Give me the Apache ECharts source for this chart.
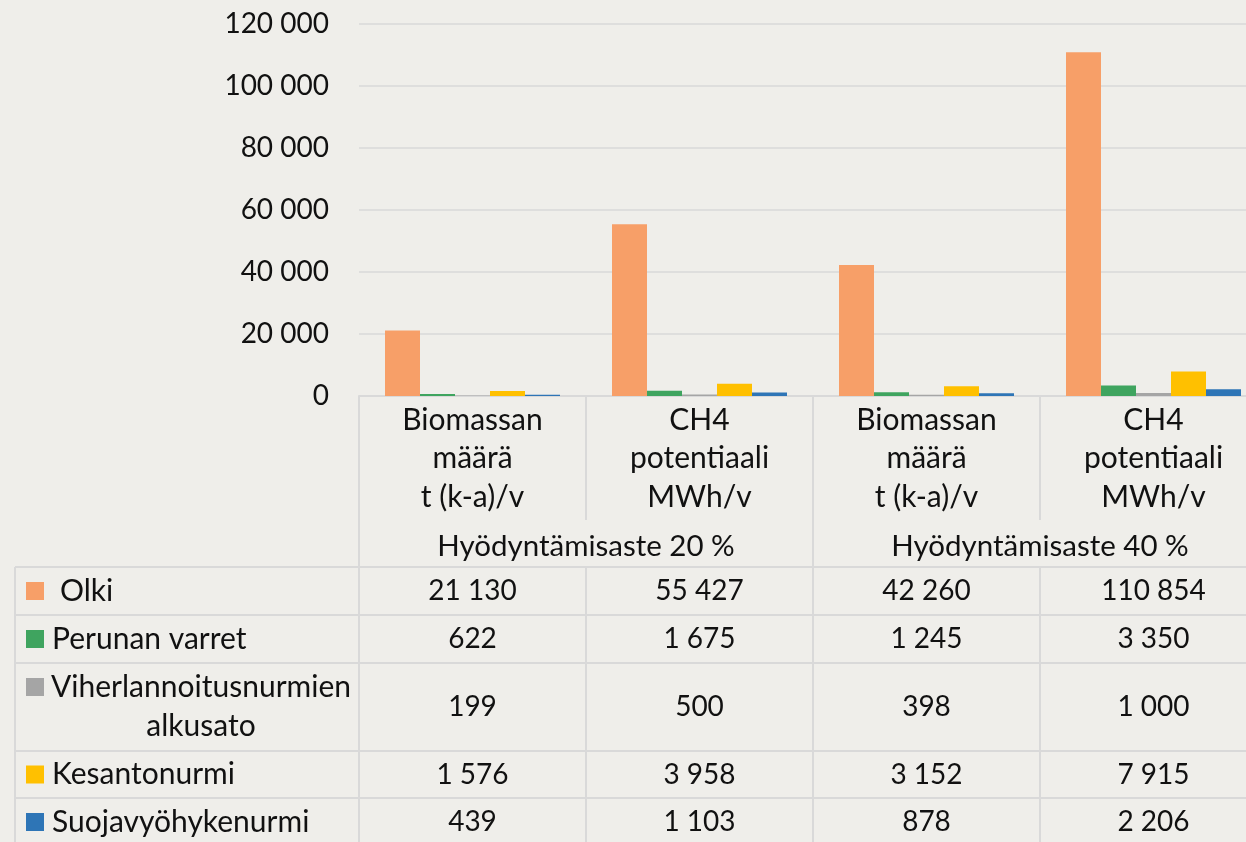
<!DOCTYPE html>
<html><head><meta charset="utf-8">
<script src="https://cdn.jsdelivr.net/npm/echarts@6/dist/echarts.min.js"></script>
<style>
html,body{margin:0;padding:0;overflow:hidden;background:#EFEEEA;width:1246px;height:842px}
#c{width:1267px;height:842px}
</style></head><body><div id="c"></div><script>
// ---- data ----
const categories = ['Biomassan\nmäärä\nt (k-a)/v', 'CH4\npotentiaali\nMWh/v', 'Biomassan\nmäärä\nt (k-a)/v', 'CH4\npotentiaali\nMWh/v'];
const groups = ['Hyödyntämisaste 20 %', 'Hyödyntämisaste 40 %'];
const seriesNames = ['Olki', 'Perunan varret', 'Viherlannoitusnurmien alkusato', 'Kesantonurmi', 'Suojavyöhykenurmi'];
const olki = [21130, 55427, 42260, 110854];
const perunanVarret = [622, 1675, 1245, 3350];
const viherlannoitus = [199, 500, 398, 1000];
const kesantonurmi = [1576, 3958, 3152, 7915];
const suojavyohykenurmi = [439, 1103, 878, 2206];
const yMin = 0, yMax = 120000, yStep = 20000;

// ---- styling ----
const colors = ['#F79F68', '#3FA45F', '#A5A5A5', '#FFC000', '#2E75B6'];
const values = [olki, perunanVarret, viherlannoitus, kesantonurmi, suojavyohykenurmi];
const lineC = '#D9D9D9';
const txt = '#111111';
const font = 'Lato, "Open Sans", sans-serif';
const axisY = 396;
const rowTops = [567, 615, 663, 751, 798];
const rowH = [48, 48, 88, 47, 48];
const fmt = v => String(v).replace(/\B(?=(\d{3})+(?!\d))/g, ' ');

const xAxes = [
  {
    type: 'category', data: categories, position: 'bottom', gridIndex: 0,
    axisLine: {show: true, lineStyle: {color: lineC, width: 2}},
    axisTick: {show: true, length: 124, interval: 0, lineStyle: {color: lineC, width: 2}},
    axisLabel: {interval: 0, margin: 5, color: txt, fontFamily: font, fontSize: 30, lineHeight: 38.5, align: 'center'}
  },
  {
    type: 'category', data: groups, position: 'bottom', offset: 124,
    axisLine: {show: false},
    axisTick: {show: true, length: 47, interval: 0, lineStyle: {color: lineC, width: 2}},
    axisLabel: {interval: 0, margin: 26, verticalAlign: 'middle', color: txt, fontFamily: font, fontSize: 29.5}
  }
];
values.forEach((arr, k) => {
  xAxes.push({
    type: 'category', data: categories, position: 'bottom', offset: rowTops[k] - axisY,
    axisLine: {show: true, lineStyle: {color: lineC, width: 2}},
    axisTick: {show: true, length: rowH[k], interval: 0, lineStyle: {color: lineC, width: 2}},
    axisLabel: {interval: 0, margin: rowH[k] / 2, verticalAlign: 'middle', color: txt,
      fontFamily: font, fontSize: 28, formatter: (v, i) => fmt(arr[i])}
  });
});

const graphics = [];
graphics.push({type: 'line', shape: {x1: 15, y1: rowTops[0], x2: 15, y2: 842}, style: {stroke: lineC, lineWidth: 2}});
rowTops.forEach((t, k) => {
  graphics.push({type: 'line', shape: {x1: 15, y1: t, x2: 359, y2: t}, style: {stroke: lineC, lineWidth: 2}});
  const twoLine = seriesNames[k].length > 20;
  const cy = twoLine ? t + 24 : t + rowH[k] / 2;
  graphics.push({type: 'rect', shape: {x: 26, y: cy - 9, width: 18, height: 18}, style: {fill: colors[k]}});
  if (twoLine) {
    graphics.push({type: 'text', x: 201, y: t + rowH[k] / 2, style: {
      text: seriesNames[k].replace(' ', '\n'), fill: txt, font: '30px ' + font, lineHeight: 39,
      align: 'center', verticalAlign: 'middle'}});
  } else {
    graphics.push({type: 'text', x: k === 0 ? 60 : 52, y: cy, style: {
      text: seriesNames[k], fill: txt, font: '30px ' + font, align: 'left', verticalAlign: 'middle'}});
  }
});

const chart = echarts.init(document.getElementById('c'), null, {renderer: 'canvas'});
chart.setOption({
  backgroundColor: '#EFEEEA',
  animation: false,
  grid: {left: 359, right: 0, top: 24, bottom: 842 - axisY, containLabel: false},
  xAxis: xAxes,
  yAxis: {
    type: 'value', min: yMin, max: yMax, interval: yStep,
    axisLine: {show: false}, axisTick: {show: false},
    splitLine: {lineStyle: {color: lineC, width: 1.5}},
    axisLabel: {margin: 30, color: txt, fontFamily: font, fontSize: 28, formatter: v => fmt(v)}
  },
  series: values.map((arr, k) => ({
    type: 'bar', name: seriesNames[k], data: arr, xAxisIndex: 0,
    barWidth: 35, barGap: '0%',
    itemStyle: {color: colors[k]}
  })),
  graphic: graphics
});
</script></body></html>
